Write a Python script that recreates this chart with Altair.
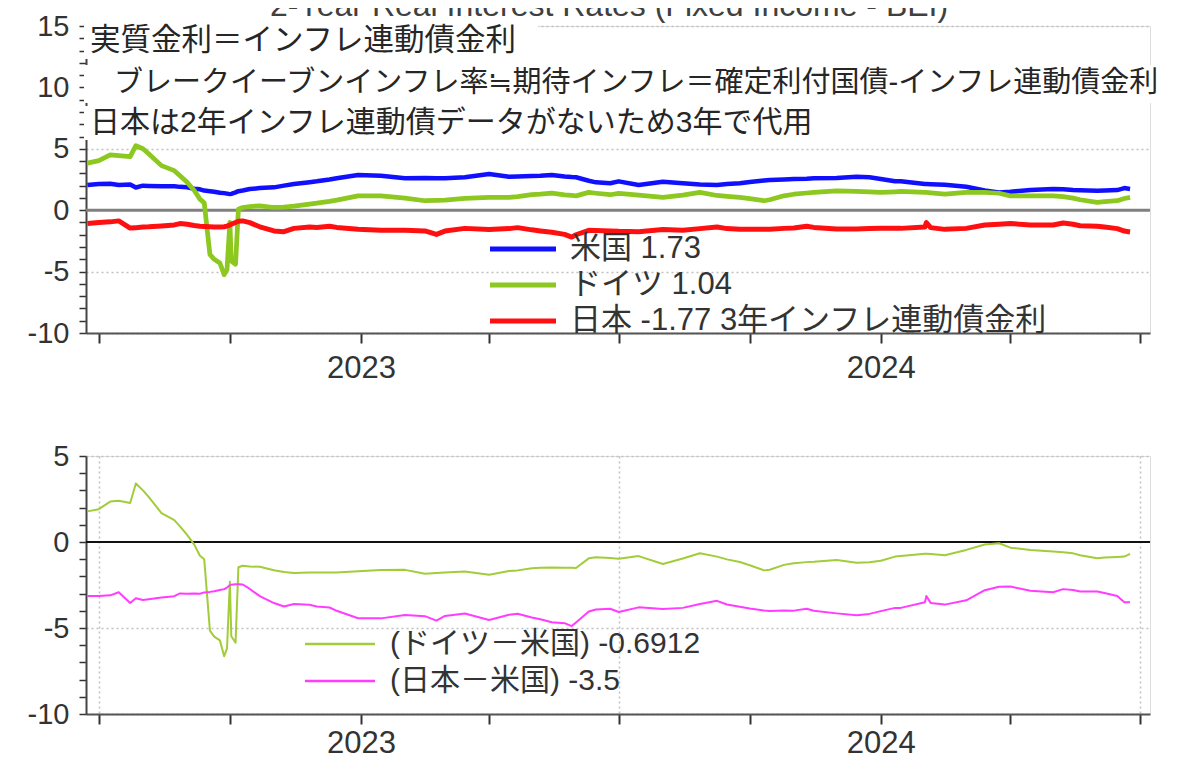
import altair as alt
import pandas as pd

FONT = "Liberation Sans, Noto Sans CJK JP, sans-serif"

# ---------------- data ----------------
dates = [
    "2022-06-23", "2022-07-01", "2022-07-09", "2022-07-15", "2022-07-23", "2022-07-27",
    "2022-08-01", "2022-08-05", "2022-08-14", "2022-08-23", "2022-08-27", "2022-09-01",
    "2022-09-06", "2022-09-10", "2022-09-13", "2022-09-17", "2022-09-20", "2022-09-24",
    "2022-09-27", "2022-09-29", "2022-10-01", "2022-10-02", "2022-10-05", "2022-10-07",
    "2022-10-10", "2022-10-15", "2022-10-22", "2022-11-01", "2022-11-08", "2022-11-15",
    "2022-11-26", "2022-12-01", "2022-12-10", "2022-12-15", "2022-12-30", "2023-01-15",
    "2023-02-01", "2023-02-15", "2023-02-23", "2023-03-01", "2023-03-15", "2023-04-01",
    "2023-04-15", "2023-04-21", "2023-05-01", "2023-05-07", "2023-05-15", "2023-05-24",
    "2023-05-29", "2023-06-01", "2023-06-10", "2023-06-15", "2023-06-25", "2023-07-01",
    "2023-07-15", "2023-08-01", "2023-08-15", "2023-08-27", "2023-09-08", "2023-09-15",
    "2023-09-24", "2023-10-01", "2023-10-11", "2023-10-15", "2023-10-25", "2023-11-01",
    "2023-11-10", "2023-11-15", "2023-12-01", "2023-12-15", "2023-12-24", "2024-01-01",
    "2024-01-11", "2024-01-15", "2024-02-01", "2024-02-02", "2024-02-05", "2024-02-15",
    "2024-03-01", "2024-03-14", "2024-03-24", "2024-04-01", "2024-04-15", "2024-05-01",
    "2024-05-08", "2024-05-15", "2024-05-20", "2024-06-01", "2024-06-06", "2024-06-15",
    "2024-06-20", "2024-06-24",
]

us = [
    2.05, 2.13, 2.15, 2.05, 2.10, 1.85, 2.00, 1.98, 1.95, 1.95, 1.90, 1.86,
    1.75, 1.70, 1.60, 1.55, 1.50, 1.42, 1.39, 1.35, 1.31, 1.33, 1.45, 1.55,
    1.60, 1.72, 1.80, 1.86, 2.00, 2.13, 2.28, 2.35, 2.50, 2.60, 2.87, 2.80,
    2.60, 2.62, 2.60, 2.60, 2.68, 2.95, 2.73, 2.75, 2.79, 2.80, 2.87, 2.75,
    2.70, 2.68, 2.40, 2.27, 2.19, 2.35, 2.05, 2.32, 2.19, 2.10, 2.05, 2.13,
    2.20, 2.30, 2.42, 2.46, 2.50, 2.54, 2.57, 2.60, 2.62, 2.73, 2.68, 2.54,
    2.35, 2.35, 2.13, 2.13, 2.12, 2.08, 1.91, 1.60, 1.45, 1.50, 1.64, 1.72,
    1.70, 1.64, 1.62, 1.58, 1.60, 1.64, 1.80, 1.73,
]

de = [
    3.83, 4.04, 4.50, 4.45, 4.37, 5.25, 5.00, 4.60, 3.63, 3.22, 2.81, 2.27,
    1.60, 0.90, 0.60, -3.60, -4.00, -4.30, -5.25, -4.84, -1.00, -4.15, -4.40, 0.08,
    0.22, 0.30, 0.36, 0.22, 0.25, 0.33, 0.50, 0.57, 0.72, 0.82, 1.17, 1.17,
    0.98, 0.77, 0.80, 0.82, 0.96, 1.04, 1.04, 1.10, 1.26, 1.30, 1.39, 1.25,
    1.20, 1.17, 1.45, 1.38, 1.26, 1.37, 1.23, 1.04, 1.23, 1.45, 1.20, 1.12,
    1.04, 0.95, 0.77, 0.85, 1.17, 1.30, 1.40, 1.45, 1.58, 1.53, 1.50, 1.45,
    1.50, 1.53, 1.45, 1.45, 1.42, 1.31, 1.45, 1.45, 1.38, 1.17, 1.17, 1.17,
    1.10, 0.98, 0.85, 0.63, 0.70, 0.77, 0.95, 1.04,
]

jp = [
    -1.09, -1.01, -0.95, -0.87, -1.45, -1.42, -1.37, -1.35, -1.28, -1.20, -1.09, -1.15,
    -1.25, -1.31, -1.33, -1.35, -1.36, -1.37, -1.35, -1.30, -1.20, -1.15, -1.00, -0.90,
    -0.87, -1.01, -1.35, -1.69, -1.75, -1.48, -1.37, -1.40, -1.31, -1.40, -1.56, -1.64,
    -1.64, -1.69, -1.97, -1.70, -1.48, -1.58, -1.50, -1.42, -1.60, -1.69, -1.80, -1.97,
    -2.19, -2.00, -1.64, -1.65, -1.69, -1.72, -1.75, -1.58, -1.64, -1.50, -1.37, -1.50,
    -1.56, -1.56, -1.56, -1.55, -1.48, -1.45, -1.31, -1.40, -1.53, -1.53, -1.50, -1.48,
    -1.48, -1.48, -1.37, -1.01, -1.42, -1.56, -1.48, -1.20, -1.15, -1.09, -1.20, -1.20,
    -1.04, -1.15, -1.26, -1.30, -1.37, -1.50, -1.70, -1.77,
]

top_labels = ["米国 1.73", "ドイツ 1.04", "日本 -1.77 3年インフレ連動債金利"]
top_colors = ["#1010ff", "#8cc820", "#ff1010"]
top_widths = [4.5, 5, 3.5]

bot_labels = ["(ドイツ－米国) -0.6912", "(日本－米国) -3.5"]
bot_colors = ["#a2cc3a", "#ff3cff"]
bot_widths = [2, 2]

title_text = "2-Year Real Interest Rates (Fixed Income - BEI)"
notes = [
    "実質金利＝インフレ連動債金利",
    "ブレークイーブンインフレ率≒期待インフレ＝確定利付国債-インフレ連動債金利",
    "日本は2年インフレ連動債データがないため3年で代用",
]

# ---------------- tables ----------------
top_df = pd.concat(
    [pd.DataFrame({"date": dates, "value": v, "series": s})
     for v, s in zip([us, de, jp], top_labels)],
    ignore_index=True,
)
diff_de = [round(d - u, 4) for d, u in zip(de, us)]
diff_jp = [round(j - u, 4) for j, u in zip(jp, us)]
bot_df = pd.concat(
    [pd.DataFrame({"date": dates, "value": v, "series": s})
     for v, s in zip([diff_de, diff_jp], bot_labels)],
    ignore_index=True,
)

# ---------------- axes ----------------
X_DOMAIN = [alt.DateTime(year=2022, month=6, date=22, utc=True),
            alt.DateTime(year=2024, month=7, date=8, utc=True)]
quarters = [(2022, 7), (2022, 10), (2023, 1), (2023, 4), (2023, 7),
            (2023, 10), (2024, 1), (2024, 4), (2024, 7)]
x_ticks = [alt.DateTime(year=y, month=m, date=1, utc=True) for y, m in quarters]

W = 1064
H_TOP = 307
H_BOT = 258


def x_axis(grid, pad):
    kw = dict(
        values=x_ticks, tickCount=50,
        labelExpr="utcmonth(datum.value) === 0 ? utcFormat(datum.value, '%Y') : ''",
        labelOverlap=False, labelFlush=False, title=None,
        tickSize=10, tickWidth=2, tickColor="#333",
        domainColor="#555", domainWidth=2,
        labelFontSize=31, labelFont=FONT, labelColor="#333", labelPadding=pad,
        grid=grid,
    )
    if grid:
        kw.update(gridColor="#c0c0c0", gridDash=[2, 3], gridWidth=1.5,
                  gridOpacity={"condition": {"test": "utcmonth(datum.value) === 6", "value": 1}, "value": 0})
    return alt.Axis(**kw)


def y_axis(lo, hi):
    return alt.Axis(
        values=list(range(lo, hi + 1)), tickCount=60,
        labelExpr="datum.value % 5 === 0 ? '' + datum.value : ''",
        labelOverlap=False, title=None,
        tickSize=7, tickWidth=1.5, tickColor="#333",
        domainColor="#444", domainWidth=2,
        labelFontSize=29, labelFont=FONT, labelColor="#333", labelPadding=10,
        grid=True, gridColor="#c0c0c0", gridDash=[2, 3], gridWidth=1.5,
        gridOpacity={"condition": {"test": "datum.value % 5 === 0 && datum.value !== 0", "value": 1}, "value": 0},
    )


def legend_entry(label, color, width, x0, x1, y, tx, fs):
    d = pd.DataFrame({"label": [label]})
    rule = alt.Chart(d).mark_rule(color=color, strokeWidth=width).encode(
        x=alt.value(x0), x2=alt.value(x1), y=alt.value(y))
    txt = alt.Chart(d).mark_text(align="left", baseline="middle", fontSize=fs,
                                 font=FONT, color="#333").encode(
        x=alt.value(tx), y=alt.value(y), text="label:N")
    return [rule, txt]


# ---------------- top panel ----------------
lines_top = alt.Chart(top_df).mark_line(strokeJoin="round").encode(
    x=alt.X("date:T", scale=alt.Scale(type="utc", domain=X_DOMAIN), axis=x_axis(False, 10)),
    y=alt.Y("value:Q", scale=alt.Scale(domain=[-10, 15], nice=False, zero=False), axis=y_axis(-10, 15)),
    color=alt.Color("series:N", scale=alt.Scale(domain=top_labels, range=top_colors), legend=None),
    strokeWidth=alt.StrokeWidth("series:N", scale=alt.Scale(domain=top_labels, range=top_widths), legend=None),
)
zero_top = alt.Chart(pd.DataFrame({"y": [0]})).mark_rule(color="#808080", strokeWidth=3).encode(y="y:Q")

boxes = [(-2, 452, -3, 33), (-2, 1082, 39, 77), (-2, 732, 80, 114)]
box_layers = [
    alt.Chart(pd.DataFrame({"k": [i]})).mark_rect(color="white").encode(
        x=alt.value(a), x2=alt.value(b), y=alt.value(c), y2=alt.value(d))
    for i, (a, b, c, d) in enumerate(boxes)
]
note_pos = [(4, 15, 30.5), (28, 57, 29), (4, 97, 30)]
note_layers = [
    alt.Chart(pd.DataFrame({"t": [t]})).mark_text(
        align="left", baseline="middle", fontSize=fs, font=FONT, color="#262626").encode(
        x=alt.value(px), y=alt.value(py), text="t:N")
    for t, (px, py, fs) in zip(notes, note_pos)
]
title_layer = alt.Chart(pd.DataFrame({"t": [title_text]})).mark_text(
    align="center", baseline="alphabetic", fontSize=32, font=FONT, color="#404040").encode(
    x=alt.value(523), y=alt.value(-10), text="t:N")

legend_top = []
for i, (lab, col) in enumerate(zip(top_labels, top_colors)):
    legend_top += legend_entry(lab, col, 5, 404, 470, 223 + 36 * i, 484, 31)

top = alt.layer(zero_top, lines_top, *box_layers, *note_layers, title_layer, *legend_top).properties(
    width=W, height=H_TOP)

# ---------------- bottom panel ----------------
lines_bot = alt.Chart(bot_df).mark_line(strokeJoin="round").encode(
    x=alt.X("date:T", scale=alt.Scale(type="utc", domain=X_DOMAIN), axis=x_axis(True, 4)),
    y=alt.Y("value:Q", scale=alt.Scale(domain=[-10, 5], nice=False, zero=False), axis=y_axis(-10, 5)),
    color=alt.Color("series:N", scale=alt.Scale(domain=bot_labels, range=bot_colors), legend=None),
    strokeWidth=alt.StrokeWidth("series:N", scale=alt.Scale(domain=bot_labels, range=bot_widths), legend=None),
)
zero_bot = alt.Chart(pd.DataFrame({"y": [0]})).mark_rule(color="#111", strokeWidth=2).encode(y="y:Q")

legend_bot = []
for i, (lab, col) in enumerate(zip(bot_labels, bot_colors)):
    legend_bot += legend_entry(lab, col, 2.5, 219, 289, 188 + 37 * i, 304, 30)

bottom = alt.layer(zero_bot, lines_bot, *legend_bot).properties(width=W, height=H_BOT)

chart = alt.vconcat(top, bottom, spacing=123, bounds="flush").resolve_scale(
    x="independent", y="independent", color="independent", strokeWidth="independent"
).properties(
    padding={"left": 18, "top": -19, "right": 0, "bottom": -6}
).configure_view(stroke=None).configure(background="white")

chart.save("out.html", embed_options={"renderer": "svg", "actions": False})
